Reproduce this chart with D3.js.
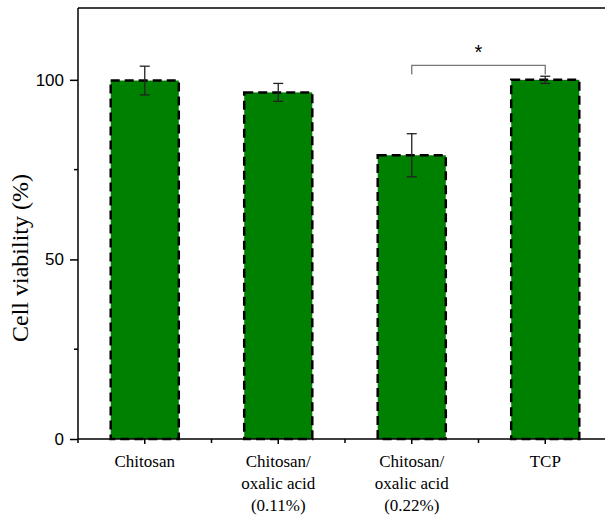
<!DOCTYPE html>
<html>
<head>
<meta charset="utf-8">
<script src="https://cdn.jsdelivr.net/npm/d3@7"></script>
<style>
  body { margin: 0; background: #fff; }
  svg { display: block; }
</style>
</head>
<body>
<div id="chart"></div>
<script>
const categories = ["Chitosan", "Chitosan/\noxalic acid\n(0.11%)", "Chitosan/\noxalic acid\n(0.22%)", "TCP"];
const viability = [99.8, 96.5, 79.0, 100.0];
const errors = [4.0, 2.5, 6.0, 1.0];
const yTicks = [0, 50, 100];
const yMinorTicks = [25, 75];
const significance = [{ from: 2, to: 3, label: "*" }];

const width = 605;
const height = 516;
const margin = { top: 8, right: -7, bottom: 77, left: 78 };

const svg = d3.select("#chart").append("svg")
    .attr("width", width)
    .attr("height", height);

const x = d3.scaleBand()
    .domain(d3.range(categories.length))
    .range([margin.left, width - margin.right])
    .paddingInner(0.49)
    .paddingOuter(0.245);

const y = d3.scaleLinear()
    .domain([0, 120])
    .range([height - margin.bottom, margin.top]);

const step = (width - margin.right - margin.left) / categories.length;

// frame top line
svg.append("line")
    .attr("x1", margin.left).attr("x2", width)
    .attr("y1", y(120)).attr("y2", y(120))
    .attr("stroke", "#000").attr("stroke-width", 1.5);

// bars
svg.selectAll(".bar")
    .data(viability)
    .join("rect")
    .attr("class", "bar")
    .attr("x", (d, i) => x(i))
    .attr("y", d => y(d))
    .attr("width", x.bandwidth())
    .attr("height", d => y(0) - y(d))
    .attr("fill", "#008000")
    .attr("stroke", "#000")
    .attr("stroke-width", 2.5)
    .attr("stroke-dasharray", "9,5");

// error bars
const err = svg.append("g")
    .attr("stroke", "#222")
    .attr("stroke-width", 1.3);
viability.forEach((v, i) => {
    const cx = x(i) + x.bandwidth() / 2;
    err.append("line")
        .attr("x1", cx).attr("x2", cx)
        .attr("y1", y(v + errors[i])).attr("y2", y(v - errors[i]));
    [v + errors[i], v - errors[i]].forEach(e => {
        err.append("line")
            .attr("x1", cx - 5).attr("x2", cx + 5)
            .attr("y1", y(e)).attr("y2", y(e));
    });
});

// y axis
const yAxis = svg.append("g")
    .attr("transform", `translate(${margin.left},0)`)
    .call(d3.axisLeft(y).tickValues(yTicks).tickSize(8).tickPadding(6).tickSizeOuter(0));
yAxis.append("g").selectAll("line")
    .data(yMinorTicks)
    .join("line")
    .attr("x1", -4).attr("x2", 0)
    .attr("y1", d => y(d)).attr("y2", d => y(d))
    .attr("stroke", "#000");
yAxis.select(".domain").attr("d", `M0,${y(0) + 4}V${y(120)}`);
yAxis.selectAll("line, path").attr("stroke-width", 1.5);
yAxis.selectAll("text")
    .attr("font-family", "Liberation Sans, Arial, sans-serif")
    .attr("font-size", 17)
    .attr("fill", "#000");

// x axis
const xAxis = svg.append("g")
    .attr("transform", `translate(0,${y(0)})`)
    .call(d3.axisBottom(x).tickSize(5).tickSizeOuter(0).tickFormat(""));
xAxis.select(".domain").attr("d", `M${margin.left},0H${width}`);
xAxis.append("g").selectAll("line")
    .data(d3.range(1, categories.length))
    .join("line")
    .attr("x1", i => margin.left + i * step).attr("x2", i => margin.left + i * step)
    .attr("y1", 0).attr("y2", 4)
    .attr("stroke", "#000");
xAxis.selectAll("line, path").attr("stroke-width", 1.5);

svg.append("g").selectAll("text")
    .data(categories)
    .join("text")
    .attr("x", (d, i) => x(i) + x.bandwidth() / 2)
    .attr("y", y(0) + 28)
    .attr("text-anchor", "middle")
    .attr("font-family", "Liberation Serif, Times New Roman, serif")
    .attr("font-size", 17)
    .selectAll("tspan")
    .data(d => d.split("\n"))
    .join("tspan")
    .attr("x", function () { return d3.select(this.parentNode).attr("x"); })
    .attr("dy", (d, i) => i === 0 ? 0 : 22)
    .text(d => d);

// y axis title
svg.append("text")
    .attr("transform", "translate(28,258) rotate(-90)")
    .attr("text-anchor", "middle")
    .attr("font-family", "Liberation Serif, Times New Roman, serif")
    .attr("font-size", 24)
    .text("Cell viability (%)");

// significance bracket
significance.forEach(s => {
    const x1 = x(s.from) + x.bandwidth() / 2;
    const x2 = x(s.to) + x.bandwidth() / 2;
    const top = y(104);
    svg.append("path")
        .attr("d", `M${x1},${y(101.5)}V${top}H${x2}V${y(101.5)}`)
        .attr("fill", "none")
        .attr("stroke", "#777")
        .attr("stroke-width", 1.3);
    svg.append("text")
        .attr("x", (x1 + x2) / 2)
        .attr("y", top - 6)
        .attr("text-anchor", "middle")
        .attr("font-family", "Liberation Sans, Arial, sans-serif")
        .attr("font-size", 20)
        .text(s.label);
});
</script>
</body>
</html>
